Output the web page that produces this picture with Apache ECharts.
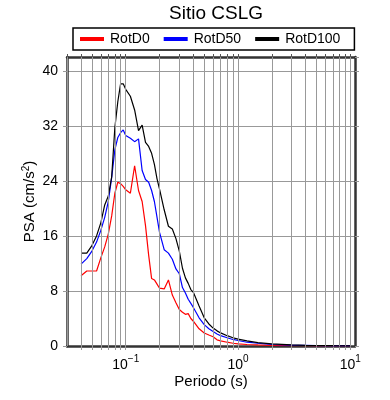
<!DOCTYPE html>
<html><head><meta charset="utf-8">
<script src="https://cdn.jsdelivr.net/npm/echarts@6/dist/echarts.min.js"></script>
<style>html,body{margin:0;padding:0;background:#fff}#c{width:390px;height:400px}</style>
</head><body><div id="c"></div>
<script>
const periods = [0.04,0.045,0.05,0.055,0.06,0.065,0.07,0.075,0.08,0.085,0.09,0.095,0.1,0.11,0.12,0.13,0.14,0.15,0.16,0.17,0.18,0.19,0.2,0.22,0.24,0.26,0.28,0.3,0.32,0.34,0.36,0.38,0.4,0.45,0.5,0.55,0.6,0.65,0.7,0.8,0.9,1.0,1.2,1.5,2,3,4,5,7,10];
const rotD0 = [10.2,10.9,10.9,10.9,12.8,14.4,16.3,18.9,22.2,23.8,23.6,23.2,22.7,22.2,26.2,22.6,21.0,17.5,13.2,9.8,9.6,9.0,8.4,8.3,9.6,7.4,6.3,5.3,4.9,4.6,4.7,4.0,3.6,2.5,1.9,1.6,1.35,0.9,0.75,0.55,0.4,0.32,0.22,0.15,0.1,0.06,0.04,0.03,0.02,0.01];
const rotD50 = [11.9,12.7,13.8,15.1,16.8,18.7,21.0,24.5,28.5,30.3,31.0,31.4,30.6,30.2,29.7,30.1,25.5,24.2,23.8,22.6,21.0,18.7,16.5,14.0,13.5,12.6,11.2,10.5,8.5,7.7,6.8,6.2,5.6,4.1,3.1,2.5,2.1,1.75,1.5,1.2,0.95,0.8,0.55,0.4,0.22,0.12,0.08,0.05,0.03,0.02];
const rotD100 = [13.5,13.5,14.6,16.0,17.9,20.5,21.8,24.6,31.7,35.5,38.1,38.1,37.3,36.3,34.3,31.3,32.1,29.6,29.0,28.0,26.4,24.3,22.8,19.8,17.4,17.0,15.6,13.8,11.3,9.9,9.1,8.2,7.8,5.8,4.1,3.2,2.6,2.2,1.9,1.5,1.2,1.0,0.75,0.5,0.3,0.15,0.1,0.07,0.04,0.02];
const gridPeriods = [0.03,0.04,0.05,0.06,0.07,0.08,0.09,0.1,0.2,0.3,0.4,0.5,0.6,0.7,0.8,0.9,1,2,3,4,5,6,7,8,9,10];
const seriesNames = ['RotD0','RotD50','RotD100'];
const seriesColors = ['#ff0000','#0000ff','#000000'];
const FONT = 'Liberation Sans';

const chart = echarts.init(document.getElementById('c'));
const pairs = arr => periods.map((p,i)=>[p, arr[i]]);
const supLabel = v => { const e = Math.round(Math.log10(v)); return '{b|10}{s|' + (e<0?'\u2212'+(-e):e) + '}'; };
const xCommon = {
  type:'log', logBase:10, min:0.03, max:11,
  axisLine:{show:true, onZero:false, lineStyle:{color:'#333', width:2.5}},
  splitLine:{show:false}
};
const yCommon = {
  type:'value', min:0, max:42, interval:8,
  axisLine:{show:true, lineStyle:{color:'#333', width:2.5}},
  axisTick:{show:true, inside:false, length:4, lineStyle:{color:'#999'}}
};
chart.setOption({
  animation:false,
  textStyle:{fontFamily:FONT},
  title:{text:'Sitio CSLG', left:211, textAlign:'center', top:-1, textStyle:{fontFamily:FONT, fontSize:19, fontWeight:'normal', color:'#000'}},
  legend:{
    data:seriesNames, left:73, top:28, icon:'rect', itemWidth:24, itemHeight:4, itemGap:14,
    padding:[4,14,4,7], borderColor:'#000', borderWidth:1.5, borderRadius:0,
    textStyle:{fontFamily:FONT, fontSize:14, color:'#000', padding:[0,0,0,1]}
  },
  grid:{left:67, right:35, top:57, bottom:54},
  xAxis:[
    Object.assign({}, xCommon, {
      position:'bottom',
      name:'Periodo (s)', nameLocation:'middle', nameGap:28, nameMoveOverlap:false,
      nameTextStyle:{fontFamily:FONT, fontSize:15, color:'#000'},
      axisTick:{show:true, inside:false, length:4, lineStyle:{color:'#999'}, customValues:gridPeriods},
      axisLabel:{showMinLabel:false, showMaxLabel:false, margin:8, formatter:supLabel,
        rich:{b:{fontFamily:FONT, fontSize:14, color:'#000', lineHeight:18, verticalAlign:'bottom'}, s:{fontFamily:FONT, fontSize:10, color:'#000', lineHeight:18, verticalAlign:'top'}}}
    }),
    Object.assign({}, xCommon, {
      position:'top',
      axisTick:{show:true, inside:false, length:3, lineStyle:{color:'#555'}, customValues:gridPeriods},
      axisLabel:{show:false}
    })
  ],
  yAxis:[
    Object.assign({}, yCommon, {
      position:'left',
      name:'PSA (cm/s{s|2})', nameLocation:'middle', nameGap:28, nameRotate:90, nameMoveOverlap:false,
      nameTextStyle:{fontFamily:FONT, fontSize:15, color:'#000', rich:{s:{fontSize:10, verticalAlign:'top', lineHeight:18}}},
      axisLabel:{showMaxLabel:false, fontFamily:FONT, fontSize:14, color:'#000', margin:9},
      splitLine:{show:true, lineStyle:{color:'#999', width:1}}
    }),
    Object.assign({}, yCommon, {
      position:'right', axisLabel:{show:false}, splitLine:{show:false}
    })
  ],
  series:[
    {type:'line', name:'grid', data:[], silent:true, z:1,
      markLine:{silent:true, symbol:'none', label:{show:false}, animation:false,
        lineStyle:{color:'#999', width:1, type:'solid'},
        data: gridPeriods.map(v=>({xAxis:v}))}},
  ].concat([rotD0, rotD50, rotD100].map((arr,i)=>({
    type:'line', name:seriesNames[i], data:pairs(arr), showSymbol:false, symbol:'none',
    color:seriesColors[i], lineStyle:{width:1.2, color:seriesColors[i]}, z:3, clip:true
  })))
});
</script></body></html>
